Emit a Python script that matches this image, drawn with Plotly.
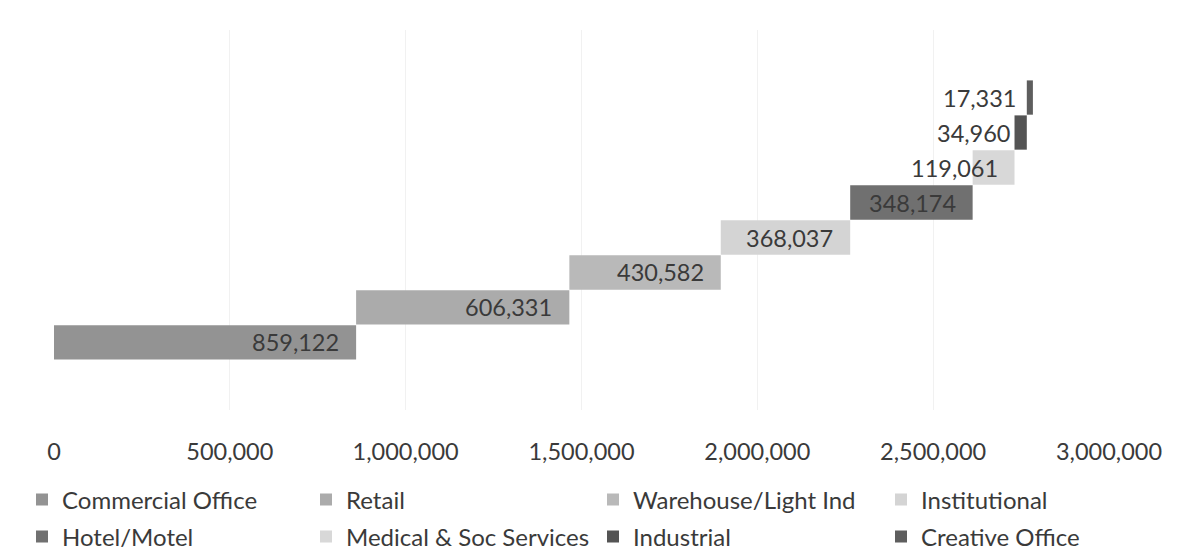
import plotly.graph_objects as go

categories = ["Commercial Office", "Retail", "Warehouse/Light Ind", "Institutional",
              "Hotel/Motel", "Medical & Soc Services", "Industrial", "Creative Office"]
values = [859122, 606331, 430582, 368037, 348174, 119061, 34960, 17331]
colors = ["#939393", "#ababab", "#b9b9b9", "#d4d4d4", "#707070", "#d8d8d8", "#545454", "#5e5e5e"]
tick_vals = [0, 500000, 1000000, 1500000, 2000000, 2500000, 3000000]

FONT = "Lato"
TXT = "#3a3a3a"
OFF = 8  # page body margin
W, H = 1177 - OFF, 551 - OFF

# legend placement (column text start px, row center px, in page coords)
leg_cols = [62, 346, 633, 921]
leg_rows = [500, 537]

fig = go.Figure()
starts = []
acc = 0
for v in values:
    starts.append(acc)
    acc += v

for i, (cat, v, s, c) in enumerate(zip(categories, values, starts, colors)):
    col = i % 4
    row = i // 4
    lname = "legend" if i == 0 else f"legend{i+1}"
    fig.add_trace(go.Bar(
        x=[v], y=[i], base=[s], orientation="h", name=cat,
        marker=dict(color=c, line=dict(width=0)), width=0.98,
        legend=lname, showlegend=True, hoverinfo="x+name",
    ))
    fig.add_annotation(
        x=s + v, y=i, xref="x", yref="y", text=f"{v:,}", showarrow=False,
        xanchor="right", yanchor="middle", xshift=-15,
        font=dict(family=FONT, size=23.5, color=TXT),
    )
    fig.update_layout(**{lname: dict(
        xref="container", yref="container",
        x=(leg_cols[col] - OFF - 40) / W, y=1 - (leg_rows[row] - OFF) / H,
        xanchor="left", yanchor="middle",
        bgcolor="rgba(0,0,0,0)", borderwidth=0,
        font=dict(family=FONT, size=24, color=TXT),
        itemwidth=30,
    )})

fig.update_layout(
    width=W, height=H,
    barmode="overlay",
    plot_bgcolor="white", paper_bgcolor="white",
    margin=dict(l=54 - OFF, r=68, t=30 - OFF, b=141, autoexpand=False),
    xaxis=dict(
        range=[0, 3000000], tickvals=tick_vals, tickformat=",",
        showgrid=True, gridcolor="#f1f1f1", gridwidth=1,
        zeroline=False, showline=False, ticks="",
        ticklabelstandoff=25,
        tickfont=dict(family=FONT, size=23.5, color=TXT),
    ),
    yaxis=dict(
        range=[-1.93, 8.93], showgrid=False, zeroline=False,
        showticklabels=False, showline=False, ticks="",
    ),
    font=dict(family=FONT, color=TXT),
)

fig.write_html("out.html")
